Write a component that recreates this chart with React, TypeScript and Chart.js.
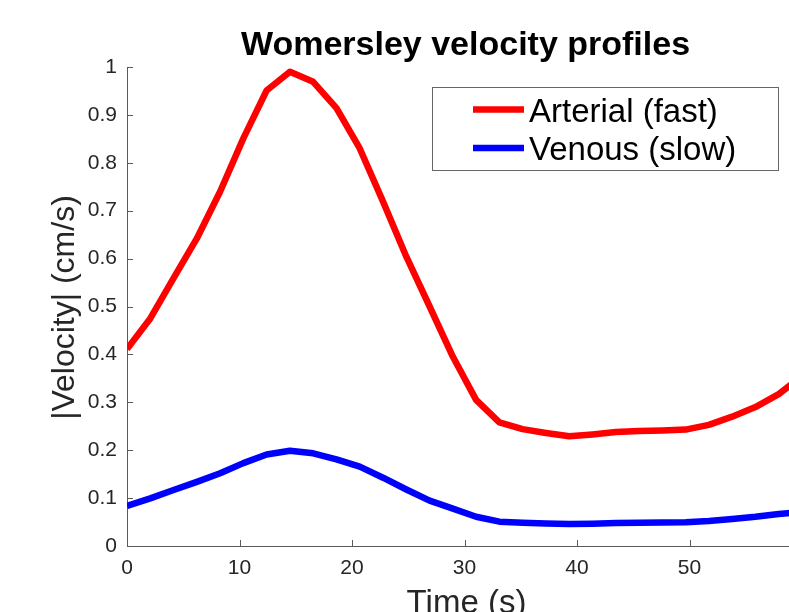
import React, { useEffect, useRef } from "react";
import { Chart, registerables } from "chart.js";

Chart.register(...registerables);

const chartTitle = "Womersley velocity profiles";
const xAxisTitle = "Time (s)";
const yAxisTitle = "|Velocity| (cm/s)";
const seriesNames = ["Arterial (fast)", "Venous (slow)"];
const seriesColors = ["#ff0000", "#0000ff"];

const timeValues = [
  0, 2.07, 4.14, 6.21, 8.28, 10.34, 12.41, 14.48, 16.55, 18.62, 20.69, 22.76,
  24.83, 26.9, 28.97, 31.03, 33.1, 35.17, 37.24, 39.31, 41.38, 43.45, 45.52,
  47.59, 49.66, 51.72, 53.79, 55.86, 57.93, 60,
];

const arterialValues = [
  0.411, 0.475, 0.559, 0.642, 0.74, 0.851, 0.951, 0.99, 0.969, 0.914, 0.83,
  0.719, 0.604, 0.5, 0.395, 0.305, 0.258, 0.244, 0.236, 0.229, 0.233, 0.238,
  0.24, 0.241, 0.243, 0.253, 0.27, 0.29, 0.317, 0.355,
];

const venousValues = [
  0.0835, 0.0995, 0.117, 0.134, 0.152, 0.173, 0.191, 0.199, 0.1935, 0.181,
  0.1656, 0.1426, 0.118, 0.0946, 0.078, 0.061, 0.0508, 0.0487, 0.047, 0.046,
  0.0466, 0.048, 0.0487, 0.049, 0.0494, 0.052, 0.0564, 0.061, 0.0668, 0.071,
];

const FONT = '"Liberation Sans", Arial, Helvetica, sans-serif';
const TEXT = "#262626";
const AXIS = "#5a5a5a";

const CANVAS_W = 802;
const CANVAS_H = 640;

const decorPlugin = {
  id: "decor",
  afterDraw(chart: any) {
    const ctx = chart.ctx as CanvasRenderingContext2D;
    const area = chart.chartArea;
    const xs = chart.scales.x;
    const ys = chart.scales.y;
    ctx.save();
    // inward ticks
    ctx.strokeStyle = AXIS;
    ctx.lineWidth = 1;
    ctx.beginPath();
    ys.ticks.forEach((t: any) => {
      const py = Math.round(ys.getPixelForValue(t.value)) + 0.5;
      ctx.moveTo(area.left, py);
      ctx.lineTo(area.left + 6, py);
    });
    xs.ticks.forEach((t: any) => {
      const px = Math.round(xs.getPixelForValue(t.value)) + 0.5;
      ctx.moveTo(px, area.bottom);
      ctx.lineTo(px, area.bottom - 6);
    });
    ctx.stroke();

    // title
    ctx.fillStyle = "#000";
    ctx.font = `bold 34px ${FONT}`;
    ctx.textAlign = "center";
    ctx.textBaseline = "alphabetic";
    ctx.fillText(chartTitle, (area.left + area.right) / 2 + 1, 55);

    // axis titles
    ctx.fillStyle = TEXT;
    ctx.font = `33px ${FONT}`;
    ctx.fillText(xAxisTitle, (area.left + area.right) / 2 + 2, 613);
    ctx.save();
    ctx.font = `32px ${FONT}`;
    ctx.translate(74, (area.top + area.bottom) / 2 + 1);
    ctx.rotate(-Math.PI / 2);
    ctx.fillText(yAxisTitle, 0, 0);
    ctx.restore();

    // legend
    const bx = 432.5, by = 87.5, bw = 346, bh = 83;
    ctx.fillStyle = "#fff";
    ctx.fillRect(bx, by, bw, bh);
    ctx.strokeStyle = "#666";
    ctx.lineWidth = 1;
    ctx.strokeRect(bx, by, bw, bh);
    const rows = [109.5, 148];
    const bases = [121.5, 160];
    ctx.font = `33px ${FONT}`;
    ctx.textAlign = "left";
    seriesNames.forEach((name, i) => {
      ctx.strokeStyle = seriesColors[i];
      ctx.lineWidth = 6.5;
      ctx.beginPath();
      ctx.moveTo(473, rows[i]);
      ctx.lineTo(524, rows[i]);
      ctx.stroke();
      ctx.fillStyle = "#000";
      ctx.fillText(name, 529, bases[i]);
    });
    ctx.restore();
  },
};

export default function App() {
  const canvasRef = useRef<HTMLCanvasElement | null>(null);

  useEffect(() => {
    const canvas = canvasRef.current;
    if (!canvas) return;
    const series = [arterialValues, venousValues];
    const chart = new Chart(canvas, {
      type: "line",
      data: {
        datasets: series.map((vals, i) => ({
          label: seriesNames[i],
          data: vals.map((v, j) => ({ x: timeValues[j], y: v })),
          borderColor: seriesColors[i],
          backgroundColor: seriesColors[i],
          borderWidth: 6.5,
          pointRadius: 0,
          tension: 0,
          borderJoinStyle: "round" as const,
          fill: false,
        })),
      },
      options: {
        responsive: false,
        animation: false,
        devicePixelRatio: 1,
        layout: { padding: { top: 67, left: 0, right: 0, bottom: 0 } },
        plugins: {
          legend: { display: false },
          title: { display: false },
          tooltip: { enabled: false },
        },
        scales: {
          x: {
            type: "linear",
            min: 0,
            max: 60,
            ticks: {
              stepSize: 10,
              padding: 10,
              color: TEXT,
              font: { family: FONT, size: 21 },
              maxRotation: 0,
            },
            grid: { drawOnChartArea: false, drawTicks: false },
            border: { display: true, color: AXIS, width: 1 },
            afterFit(scale: any) {
              scale.height = CANVAS_H - 546;
              scale.paddingLeft = 0;
              scale.paddingRight = 0;
            },
          },
          y: {
            type: "linear",
            min: 0,
            max: 1,
            ticks: {
              stepSize: 0.1,
              padding: 10,
              color: TEXT,
              font: { family: FONT, size: 21 },
              callback: (v: any) => String(Number(Number(v).toFixed(1))),
            },
            grid: { drawOnChartArea: false, drawTicks: false },
            border: { display: true, color: AXIS, width: 1 },
            afterFit(scale: any) {
              scale.width = 127;
              scale.paddingTop = 0;
              scale.paddingBottom = 0;
            },
          },
        },
      },
      plugins: [decorPlugin],
    });
    return () => chart.destroy();
  }, []);

  return (
    <div
      style={{
        position: "fixed",
        left: 0,
        top: 0,
        width: 789,
        height: 612,
        overflow: "hidden",
        background: "#fff",
      }}
    >
      <canvas
        ref={canvasRef}
        width={CANVAS_W}
        height={CANVAS_H}
        style={{ display: "block", width: CANVAS_W, height: CANVAS_H }}
      />
    </div>
  );
}
